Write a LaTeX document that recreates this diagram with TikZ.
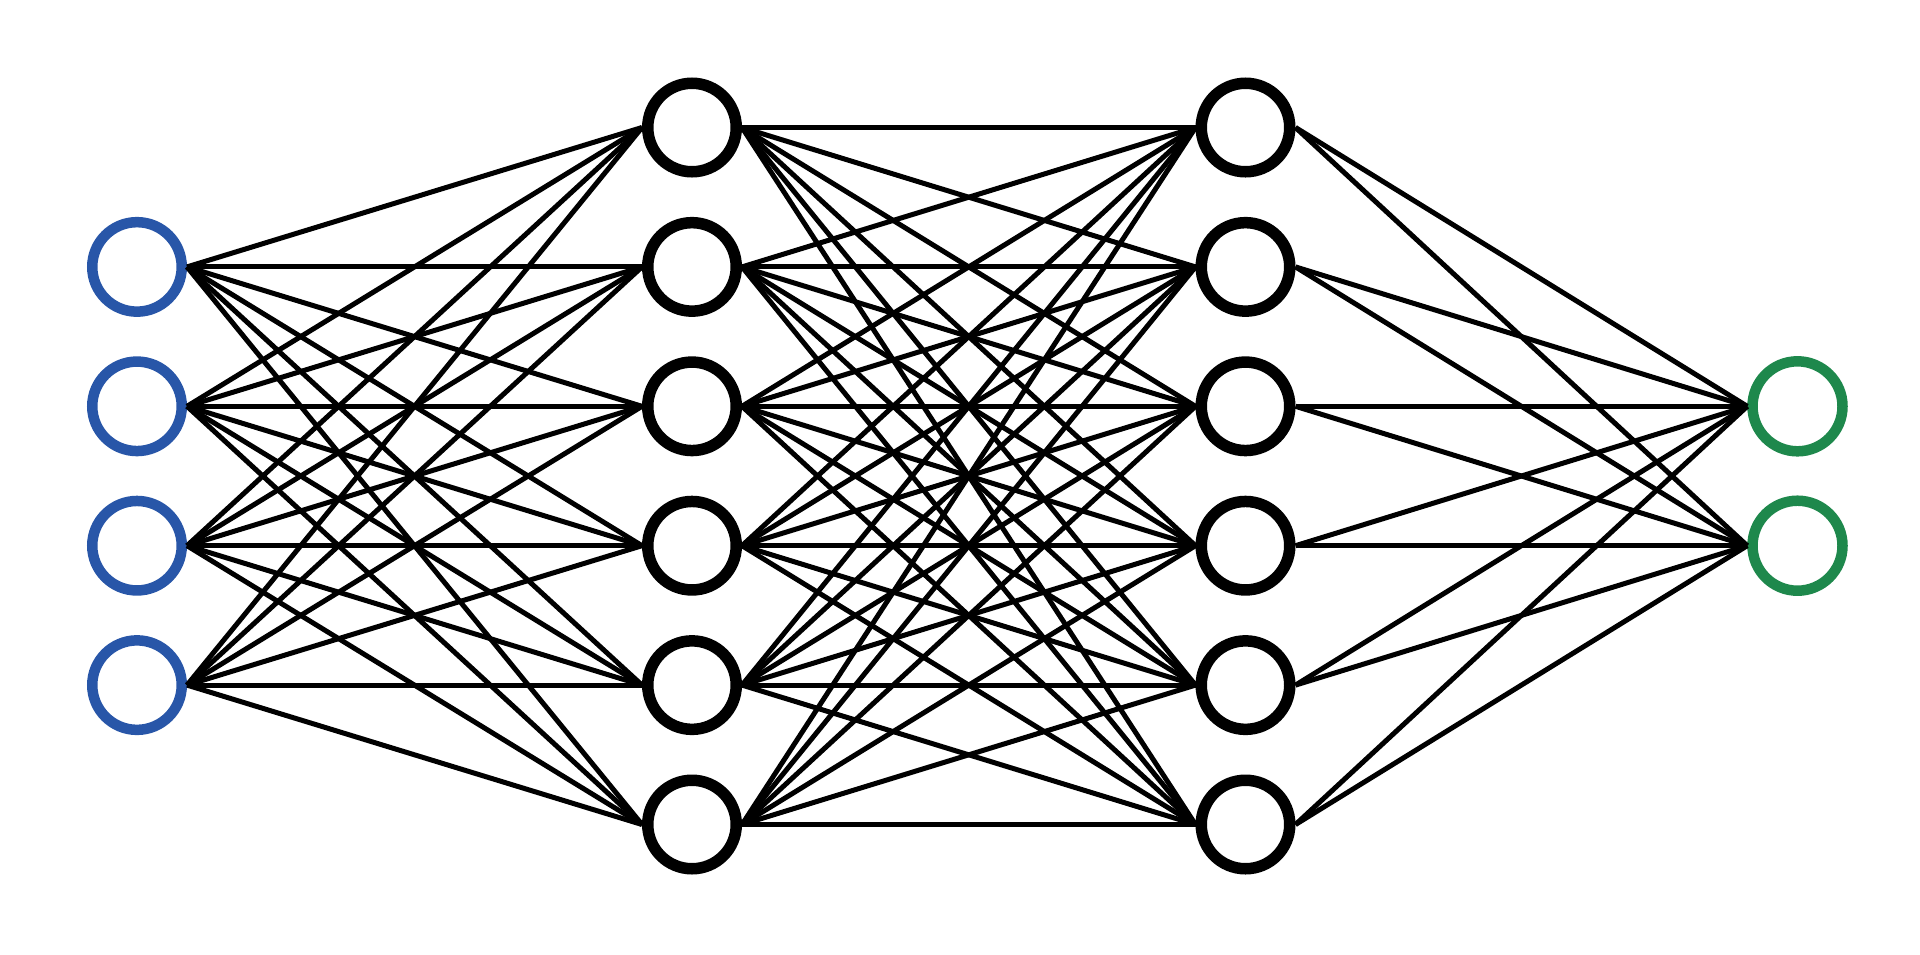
\documentclass[tikz,border=0pt]{standalone}
\definecolor{inblue}{RGB}{40,86,168}
\definecolor{outgreen}{RGB}{30,136,76}
\tikzset{
  neuron/.style={circle, draw=black, line width=11.5pt, minimum size=88.5pt, inner sep=0pt, fill=white},
  inneuron/.style={neuron, draw=inblue, line width=10.5pt, minimum size=89.5pt},
  outneuron/.style={neuron, draw=outgreen, line width=10.5pt, minimum size=90pt},
  conn/.style={line width=5pt, black}
}
\begin{document}
\begin{tikzpicture}[x=1pt,y=-1pt]
\useasboundingbox (0,0) rectangle (1920,954);
% input layer
\foreach \i in {1,...,4} {
  \node[inneuron] (a\i) at (137, {127.5+139.4*\i}) {};
}
% hidden layers
\foreach \i in {1,...,6} {
  \node[neuron] (b\i) at (692, {127.5+139.4*(\i-1)}) {};
  \node[neuron] (c\i) at (1245.5, {127.5+139.4*(\i-1)}) {};
}
% output layer
\foreach \i in {1,2} {
  \node[outneuron] (d\i) at (1797.5, {127.5+139.4*(\i+1)}) {};
}
% connections
\foreach \i in {1,...,4} {
  \foreach \j in {1,...,6} {
    \draw[conn] (a\i.east) -- (b\j.west);
  }
}
\foreach \i in {1,...,6} {
  \foreach \j in {1,...,6} {
    \draw[conn] (b\i.east) -- (c\j.west);
  }
}
\foreach \i in {1,...,6} {
  \foreach \j in {1,2} {
    \draw[conn] (c\i.east) -- (d\j.west);
  }
}
\end{tikzpicture}
\end{document}
